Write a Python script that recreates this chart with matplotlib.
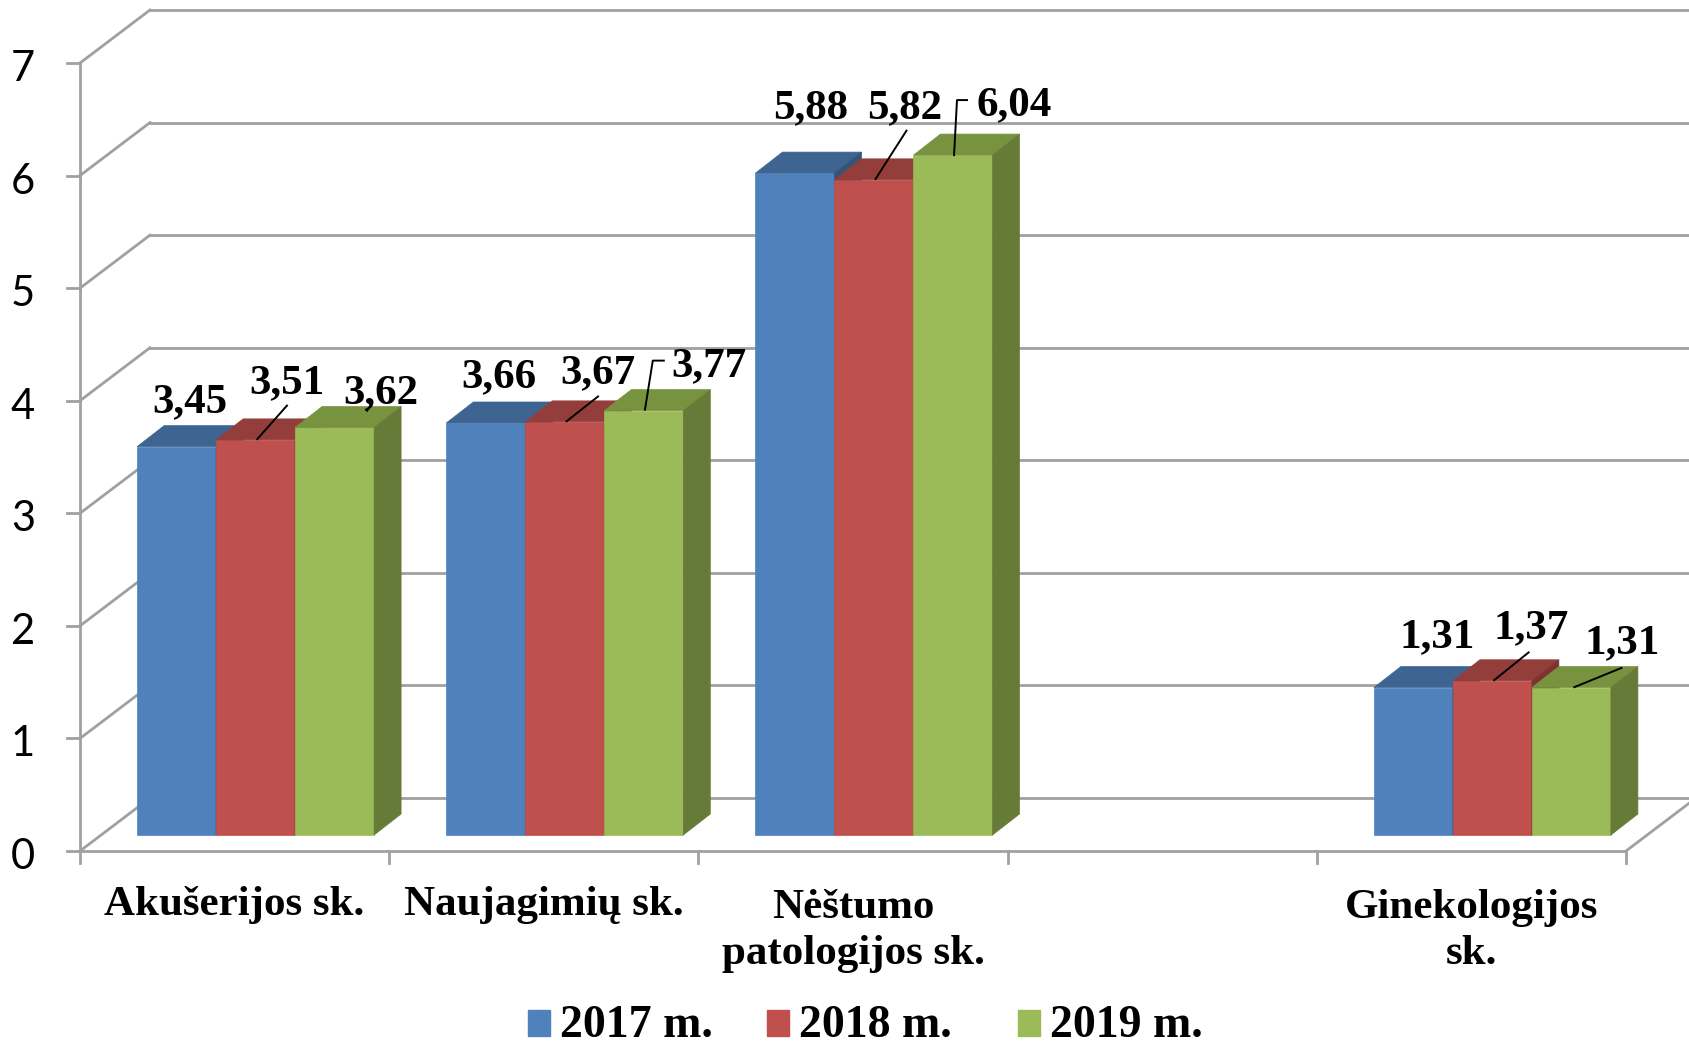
import matplotlib.pyplot as plt
from matplotlib.patches import Polygon, Rectangle

# data
categories = ["Akušerijos sk.", "Naujagimių sk.", "Nėštumo\npatologijos sk.", "", "Ginekologijos\nsk."]
years = ["2017 m.", "2018 m.", "2019 m."]
values_2017 = [3.45, 3.66, 5.88, None, 1.31]
values_2018 = [3.51, 3.67, 5.82, None, 1.37]
values_2019 = [3.62, 3.77, 6.04, None, 1.31]
y_ticks = [0, 1, 2, 3, 4, 5, 6, 7]

series = [values_2017, values_2018, values_2019]
front_colors = ["#4F81BD", "#C0504D", "#9BBB59"]
top_colors = ["#3E6592", "#933E3B", "#78933F"]
side_colors = ["#345479", "#7E3330", "#667B37"]

# label placement (pixel offsets from the top front centre of each bar)
label_offsets = [
    [(13, 34), (13, 36), (16, 55), None, (24, 40)],
    [(31, 47), (33, 39), (31, 62), None, (39, 43)],
    [(46, 24), (65, 34), (61, 40), None, (51, 34)],
]
leaders = [
    [None, None, None, None, None],
    [[(1, 0), (32, 35)], [(1, 0), (34, 26)], [(1, 0), (33, 50)], None, [(1, 0), (37, 29)]],
    [[(32, 16), (36, 22)], [(1, 0), (9, 50), (21, 50)], [(1, -1), (4, 55), (15, 55)], None, [(2, 0), (51, 20)]],
]

W, H = 1689, 1049
PX_X = 309.2   # pixels per category
PX_Y = 112.57  # pixels per unit
X0, Y0 = 80, 851  # front-left corner of the floor, in pixels from top-left

fig = plt.figure(figsize=(W / 100, H / 100), dpi=100)
ax = fig.add_axes([0, 0, 1, 1])
ax.set_xlim(-0.5 - X0 / PX_X, -0.5 + (W - X0) / PX_X)
ax.set_ylim(-(H - Y0) / PX_Y, 7 + (Y0 - 7 * PX_Y) / PX_Y)
ax.axis("off")

# depth offsets (converted to data units)
WX, WY = 70 / PX_X, 53 / PX_Y   # wall depth
FX, FY = 21 / PX_X, 16 / PX_Y   # bar front plane shift
DX, DY = 27 / PX_X, 21 / PX_Y   # bar depth
BW = 79 / PX_X                  # bar width

grid = "#A0A0A0"
left = -0.5
right = len(categories) - 0.5

# back wall grid and left wall diagonals
for t in y_ticks:
    ax.plot([left + WX, right + WX + 1], [t + WY, t + WY], color=grid, lw=2, zorder=1)
    ax.plot([left, left + WX], [t, t + WY], color=grid, lw=2, zorder=1)
    ax.plot([left - 13 / PX_X, left], [t, t], color=grid, lw=2, zorder=1)
    ax.text(left - 57 / PX_X, t - 18 / PX_Y, str(t), ha="center", va="baseline",
            fontsize=30, family="Lato", color="black")

# floor edges and axes
ax.plot([left, right], [0, 0], color=grid, lw=2, zorder=1)
ax.plot([right, right + WX], [0, WY], color=grid, lw=2, zorder=1)
ax.plot([left, left], [0, 7], color=grid, lw=2, zorder=1)
for k in range(len(categories) + 1):
    ax.plot([left + k, left + k], [0, -12 / PX_Y], color=grid, lw=2, zorder=1)

# category labels (baseline of the last line)
for i, name in enumerate(categories):
    n_lines = name.count("\n")
    ax.text(i, -(64 + 49 * n_lines) / PX_Y, name, ha="center", va="baseline",
            multialignment="center", fontsize=31, family="Liberation Serif",
            fontweight="bold", linespacing=1.27)

# 3D bars, drawn left to right
for j, vals in enumerate(series):
    z = 2 + j * 0.1
    xs = [i + FX + (j - 1) * BW for i, v in enumerate(vals) if v is not None]
    hs = [v for v in vals if v is not None]
    ax.bar(xs, hs, width=BW, bottom=FY, color=front_colors[j], edgecolor=front_colors[j],
           lw=0.5, zorder=z)
    for x, v in zip(xs, hs):
        xl, xr = x - BW / 2, x + BW / 2
        yt, yb = v + FY, FY
        ax.add_patch(Polygon([(xl, yt), (xr, yt), (xr + DX, yt + DY), (xl + DX, yt + DY)],
                             closed=True, fc=top_colors[j], ec=top_colors[j], lw=0.5, zorder=z))
        ax.add_patch(Polygon([(xr, yb), (xr + DX, yb + DY), (xr + DX, yt + DY), (xr, yt)],
                             closed=True, fc=side_colors[j], ec=side_colors[j], lw=0.5, zorder=z))

# value labels with leader lines
for j, vals in enumerate(series):
    for i, v in enumerate(vals):
        if v is None:
            continue
        x = i + FX + (j - 1) * BW
        y = v + FY
        dx, dy = label_offsets[j][i]
        ax.text(x + dx / PX_X, y + dy / PX_Y, f"{v:.2f}".replace(".", ","),
                ha="center", va="baseline", fontsize=31, family="Liberation Serif",
                fontweight="bold", zorder=5)
        if leaders[j][i]:
            pts = leaders[j][i]
            ax.plot([x + p[0] / PX_X for p in pts], [y + p[1] / PX_Y for p in pts],
                    color="black", lw=1.4, zorder=5, solid_capstyle="butt")

# legend
legend_x = [528, 767, 1018]
for j, label in enumerate(years):
    fig.add_artist(Rectangle((legend_x[j] / W, 1 - 1036 / H), 22 / W, 26 / H,
                             transform=fig.transFigure, color=front_colors[j]))
    fig.text((legend_x[j] + 32) / W, 1 - 1037 / H, label, ha="left", va="baseline",
             fontsize=33, family="Liberation Serif", fontweight="bold")

plt.savefig("out.png", dpi=100)
